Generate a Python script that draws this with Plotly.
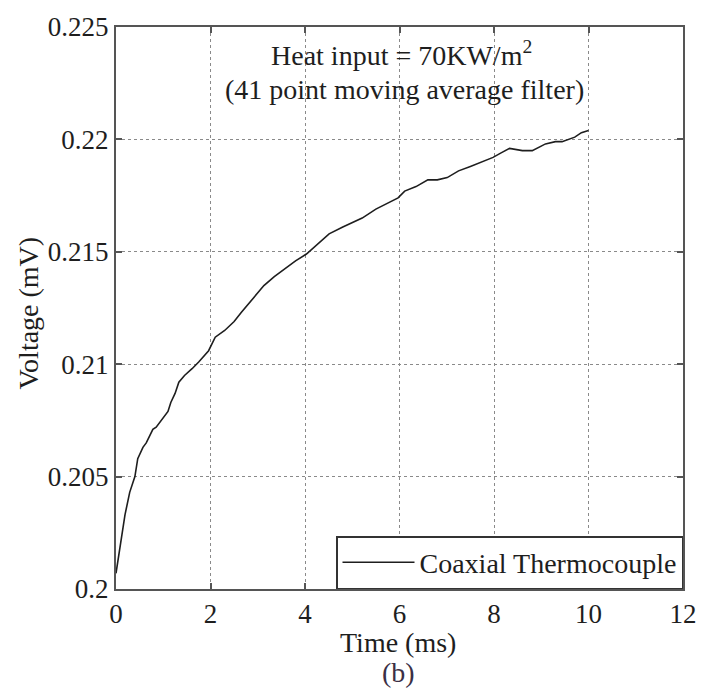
import plotly.graph_objects as go

time_ms = [0, 0.08, 0.19, 0.29, 0.40, 0.46, 0.57, 0.64, 0.78, 0.85, 1.02, 1.10, 1.16, 1.25,
           1.33, 1.45, 1.61, 1.75, 1.96, 2.05, 2.10, 2.30, 2.50, 2.65, 2.90, 3.13, 3.35, 3.55,
           3.80, 4.03, 4.25, 4.51, 4.80, 5.00, 5.21, 5.50, 5.80, 5.97, 6.11, 6.35, 6.60, 6.80,
           7.01, 7.25, 7.50, 7.75, 7.98, 8.15, 8.33, 8.60, 8.81, 9.09, 9.30, 9.44, 9.71, 9.85, 10.0]
voltage_mv = [0.2007, 0.2018, 0.2033, 0.2043, 0.2050, 0.2058, 0.2063, 0.2065, 0.2071, 0.2072,
              0.2077, 0.2079, 0.2083, 0.2087, 0.2092, 0.2095, 0.2098, 0.2101, 0.2106, 0.2110,
              0.2112, 0.2115, 0.2119, 0.2123, 0.2129, 0.2135, 0.2139, 0.2142, 0.2146, 0.2149,
              0.2153, 0.2158, 0.2161, 0.2163, 0.2165, 0.2169, 0.2172, 0.2174, 0.2177, 0.2179,
              0.2182, 0.2182, 0.2183, 0.2186, 0.2188, 0.2190, 0.2192, 0.2194, 0.2196, 0.2195,
              0.2195, 0.2198, 0.2199, 0.2199, 0.2201, 0.2203, 0.2204]

x_ticks = [0, 2, 4, 6, 8, 10, 12]
x_ticktext = ["0", "2", "4", "6", "8", "10", "12"]
y_ticks = [0.2, 0.205, 0.21, 0.215, 0.22, 0.225]
y_ticktext = ["0.2", "0.205", "0.21", "0.215", "0.22", "0.225"]

series_name = "Coaxial Thermocouple"
note_line1 = "Heat input = 70KW/m<sup>2</sup>"
note_line2 = "(41 point moving average filter)"

FONT = "Liberation Serif, Times New Roman, serif"
FS = 28
TFS = 27
INK = "#1e1e1e"

fig = go.Figure()
fig.add_trace(go.Scatter(x=time_ms, y=voltage_mv, mode="lines", name=series_name,
                         line=dict(color=INK, width=1.6)))

axis_common = dict(showline=True, linecolor="#555555", linewidth=2, mirror="ticks",
                   ticks="inside", ticklen=6, tickcolor="#555555", tickwidth=1.5,
                   showgrid=True, gridcolor="#8a8a8a", gridwidth=1, griddash="dot",
                   zeroline=False, tickfont=dict(family=FONT, size=TFS, color=INK))

fig.update_xaxes(range=[0, 12], tickvals=x_ticks, ticktext=x_ticktext, **axis_common)
fig.update_yaxes(range=[0.2, 0.225], tickvals=y_ticks, ticktext=y_ticktext, **axis_common)

H_plot = 692 - 23 - 103
W_plot = 709 - 116 - 16
def py(ypix):
    return (692 - 103 - ypix) / H_plot
def px(xpix):
    return (xpix - 116) / W_plot

fig.update_layout(
    width=709, height=692,
    margin=dict(l=116, r=16, t=23, b=103),
    paper_bgcolor="white", plot_bgcolor="white",
    font=dict(family=FONT, size=FS, color=INK),
    showlegend=True,
    legend=dict(x=1, y=0, xanchor="right", yanchor="bottom",
                bordercolor="#333333", borderwidth=1.5, bgcolor="white",
                font=dict(family=FONT, size=FS, color=INK),
                tracegroupgap=0, itemwidth=72),
    annotations=[
        dict(text=note_line1, x=px(407), y=py(50), xref="paper", yref="paper", showarrow=False,
             font=dict(family=FONT, size=FS, color=INK), yanchor="middle"),
        dict(text=note_line2, x=px(410), y=py(86), xref="paper", yref="paper", showarrow=False,
             font=dict(family=FONT, size=FS, color=INK), yanchor="middle"),
        dict(text="Time (ms)", x=px(403), y=py(643), xref="paper", yref="paper", showarrow=False,
             font=dict(family=FONT, size=FS, color=INK), yanchor="middle"),
        dict(text="(b)", x=px(403), y=py(673), xref="paper", yref="paper", showarrow=False,
             font=dict(family=FONT, size=FS, color="#3b2f45"), yanchor="middle"),
        dict(text="Voltage (mV)", x=px(27), y=py(311), xref="paper", yref="paper", showarrow=False,
             textangle=-90, font=dict(family=FONT, size=FS, color=INK),
             xanchor="center", yanchor="middle"),
    ],
)

fig.write_html("out.html")
